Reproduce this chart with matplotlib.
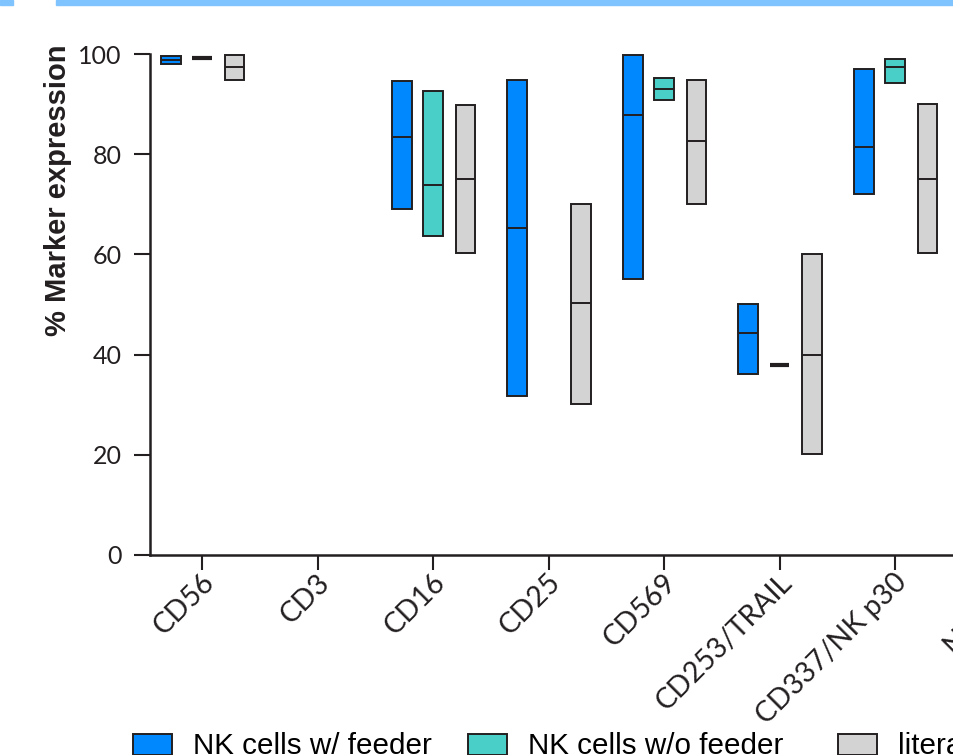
import numpy as np
import matplotlib
matplotlib.use("Agg")
import matplotlib.pyplot as plt
from matplotlib.patches import Rectangle, Patch
from matplotlib.transforms import ScaledTranslation

nan = np.nan
categories = ['CD56', 'CD3', 'CD16', 'CD25', 'CD569', 'CD253/TRAIL', 'CD337/NK p30', 'NKG2D']

feeder_low  = [98.0, nan, 69.2, 31.8, 55.0, 36.1, 72.2, nan]
feeder_high = [99.7, nan, 94.8, 95.0, 99.8, 50.0, 97.0, nan]
feeder_med  = [98.9, nan, 83.4, 65.2, 87.9, 44.4, 81.4, nan]

nofeed_low  = [99.3, nan, 63.7, nan, 91.0, 38.0, 94.2, nan]
nofeed_high = [99.3, nan, 92.8, nan, 95.2, 38.0, 99.0, nan]
nofeed_med  = [99.3, nan, 73.8, nan, 93.1, 38.0, 97.4, nan]

lit_low  = [95.0, nan, 60.2, 30.2, 70.2, 20.2, 60.2, nan]
lit_high = [100.0, nan, 89.8, 70.0, 94.9, 60.0, 90.0, nan]
lit_med  = [97.5, nan, 75.1, 50.2, 82.6, 40.0, 75.0, nan]

yticks = [0, 20, 40, 60, 80, 100]
series_names = ['NK cells w/ feeder', 'NK cells w/o feeder', 'literature']
colors = ['#0088FF', '#4ACFC8', '#D3D3D3']
edge = '#231F20'

W, H = 954, 755
fig = plt.figure(figsize=(W / 100, H / 100), dpi=100)

# axes geometry in pixels
x0_px, step_px = 202.0, 115.5
left_px, right_px = 150.0, 1150.0
top_px, bottom_px = 54.5, 554.5
ax = fig.add_axes([left_px / W, (H - bottom_px) / H,
                   (right_px - left_px) / W, (bottom_px - top_px) / H])
ax.set_xlim((left_px - x0_px) / step_px, (right_px - x0_px) / step_px)
ax.set_ylim(0, 100)

x = np.arange(len(categories))
offsets = [-0.27, 0.0, 0.28]
bw = 0.17
groups = [(feeder_low, feeder_high, feeder_med),
          (nofeed_low, nofeed_high, nofeed_med),
          (lit_low, lit_high, lit_med)]

for (lo, hi, med), off, col in zip(groups, offsets, colors):
    lo = np.array(lo); hi = np.array(hi); med = np.array(med)
    ax.bar(x + off, hi - lo, bottom=lo, width=bw, color=col,
           edgecolor=edge, linewidth=1.4, zorder=3, clip_on=False)
    for xi, l, h, m in zip(x + off, lo, hi, med):
        if np.isnan(m):
            continue
        lw = 3.0 if h - l == 0 else 1.4
        ax.hlines(m, xi - bw / 2, xi + bw / 2, color=edge, lw=lw, zorder=4,
                  clip_on=False)

for s in ['top', 'right']:
    ax.spines[s].set_visible(False)
for s in ['left', 'bottom']:
    ax.spines[s].set_linewidth(1.8)
    ax.spines[s].set_color(edge)

tick_font = 'Lato'
ax.set_yticks(yticks)
ax.set_yticklabels([str(v) for v in yticks], fontsize=18, family=tick_font,
                   color='#231F20')
ax.tick_params(axis='y', length=11.5, width=1.5, color=edge, pad=9)
ax.set_xticks(x)
ax.set_xticklabels(categories, fontsize=20.5, family=tick_font, rotation=45,
                   ha='right', va='center', rotation_mode='anchor', color='#231F20')
ax.tick_params(axis='x', length=11, width=1.5, color=edge, pad=9)
shift = ScaledTranslation(8 / 100, 4 / 100, fig.dpi_scale_trans)
for lab in ax.get_xticklabels():
    lab.set_transform(lab.get_transform() + shift)

fig.text(58 / W, 1 - 190 / H, '% Marker expression', rotation=90,
         ha='center', va='center', fontsize=21, fontweight='bold',
         family='Liberation Sans', color='#231F20')

# top banner
fig.patches.append(Rectangle((0, 1 - 5 / H), 13 / W, 5 / H, transform=fig.transFigure,
                             color='#80C4FF', zorder=0))
fig.patches.append(Rectangle((56 / W, 1 - 5 / H), 1 - 56 / W, 5 / H,
                             transform=fig.transFigure, color='#80C4FF', zorder=0))

# legend entries (one per series, placed along the bottom)
leg_x = [133, 468, 838]
for name, col, lx in zip(series_names, colors, leg_x):
    h = Patch(facecolor=col, edgecolor=edge, linewidth=1.4)
    fig.legend([h], [name], loc='center left',
               bbox_to_anchor=(lx / W, 1 - 746.5 / H),
               frameon=False, prop={'family': 'Liberation Sans', 'size': 21.3},
               handlelength=1.32, handleheight=0.71, handletextpad=0.71,
               borderaxespad=0, borderpad=0)

fig.savefig('out.png', dpi=100)
